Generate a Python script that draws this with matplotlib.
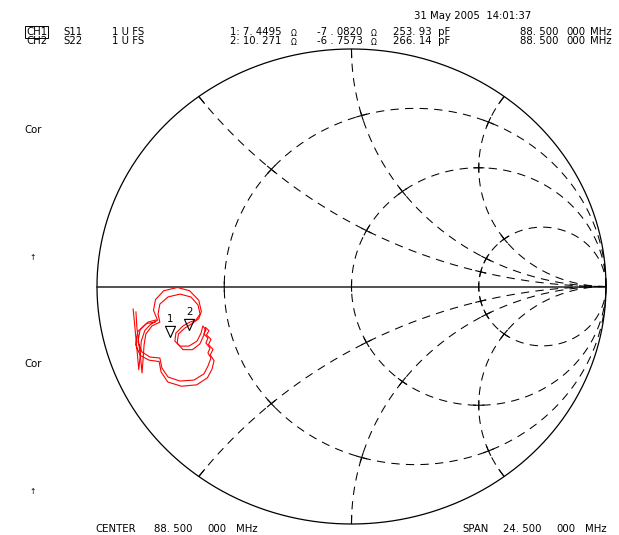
import numpy as np
import matplotlib
matplotlib.use("Agg")
import matplotlib.pyplot as plt
from matplotlib.path import Path

# ---------------- data ----------------
R_CIRCLES = [1/3, 1.0, 3.0]          # constant-resistance circles (normalised)
X_ARCS = [0.5, 1.0, 2.0, -0.5, -1.0, -2.0]  # constant-reactance arcs (normalised)
Z0 = 50.0

marker_labels = ["1", "2"]
marker_R = [7.4495, 10.271]          # ohm
marker_X = [-7.0820, -6.7573]        # ohm

# S11 trace (reflection coefficient, real / imag)
s11_re = [-0.847, -0.843, -0.835, -0.827, -0.823, -0.819, -0.815, -0.808, -0.784, -0.753,
          -0.760, -0.753, -0.721, -0.674, -0.631, -0.603, -0.595, -0.611, -0.635, -0.662,
          -0.690, -0.694, -0.674, -0.639, -0.607, -0.591, -0.584, -0.572, -0.580, -0.564,
          -0.572, -0.556, -0.564, -0.552, -0.564, -0.580, -0.619, -0.674, -0.721, -0.745,
          -0.753, -0.792, -0.823, -0.839, -0.831, -0.800, -0.768]
s11_im = [-0.107, -0.175, -0.246, -0.318, -0.364, -0.309, -0.246, -0.200, -0.166, -0.150,
          -0.116, -0.074, -0.044, -0.032, -0.044, -0.078, -0.116, -0.141, -0.150, -0.166,
          -0.196, -0.230, -0.251, -0.251, -0.230, -0.196, -0.166, -0.183, -0.200, -0.217,
          -0.238, -0.259, -0.280, -0.301, -0.335, -0.368, -0.394, -0.398, -0.381, -0.343,
          -0.301, -0.297, -0.276, -0.234, -0.183, -0.150, -0.141]

# S22 trace
s22_re = [-0.858, -0.852, -0.846, -0.840, -0.836, -0.830, -0.826, -0.812, -0.790, -0.762,
          -0.778, -0.770, -0.738, -0.684, -0.636, -0.600, -0.590, -0.600, -0.626, -0.655,
          -0.680, -0.685, -0.662, -0.625, -0.596, -0.580, -0.574, -0.560, -0.570, -0.552,
          -0.562, -0.544, -0.555, -0.540, -0.548, -0.566, -0.608, -0.668, -0.722, -0.748,
          -0.756, -0.796, -0.830, -0.848, -0.840, -0.806, -0.772]
s22_im = [-0.095, -0.160, -0.230, -0.300, -0.350, -0.290, -0.230, -0.185, -0.160, -0.142,
          -0.100, -0.055, -0.018, -0.004, -0.018, -0.058, -0.105, -0.135, -0.156, -0.175,
          -0.200, -0.238, -0.266, -0.266, -0.242, -0.205, -0.172, -0.186, -0.204, -0.222,
          -0.245, -0.265, -0.288, -0.312, -0.348, -0.384, -0.414, -0.420, -0.402, -0.360,
          -0.316, -0.310, -0.290, -0.246, -0.190, -0.156, -0.150]

header_rows = [
    ["CH1", "S11", "1 U FS", "1: 7. 4495", "-7 . 0820", "253. 93  pF", "88. 500", "000", "MHz"],
    ["CH2", "S22", "1 U FS", "2: 10. 271", "-6 . 7573", "266. 14  pF", "88. 500", "000", "MHz"],
]
date_text = "31 May 2005  14:01:37"
footer_left = ["CENTER", "88. 500", "000", "MHz"]
footer_right = ["SPAN", "24. 500", "000", "MHz"]

# ---------------- figure ----------------
W, H = 619, 535
fig = plt.figure(figsize=(W / 100, H / 100), dpi=100)
ax = fig.add_axes([0, 0, 1, 1])
ax.set_xlim(-1.3811, 1.0511)
ax.set_ylim(-1.0463, 1.2063)
ax.axis("off")

FONT = "DejaVu Sans"
FS = 7.3

def gamma(z):
    return (z - 1) / (z + 1)

dash = (0, (8, 6))
LW = 0.75

# outer circle
t = np.linspace(0, 2 * np.pi, 1000)
ax.plot(np.cos(t), np.sin(t), color="black", lw=0.9)
# real axis
ax.plot([-1, 1], [0, 0], color="#222222", lw=1.1)

# resistance circles
for r in R_CIRCLES:
    c, rho = r / (1 + r), 1 / (1 + r)
    ph = np.linspace(0, 2 * np.pi, 1500)
    ax.plot(c + rho * np.cos(ph), rho * np.sin(ph), color="black", lw=LW, ls=dash)

# reactance arcs
s = np.concatenate([[0.0], np.geomspace(1e-3, 1e4, 3000)])
for xv in X_ARCS:
    g = gamma(s + 1j * xv)
    ax.plot(g.real, g.imag, color="black", lw=LW, ls=dash)

# small solid ticks at grid intersections
def r_tick(r, g0, px=5):
    c, rho = r / (1 + r), 1 / (1 + r)
    p0 = np.arctan2(g0.imag, g0.real - c)
    d = px * 0.004 / rho
    ph = np.linspace(p0 - d, p0 + d, 20)
    ax.plot(c + rho * np.cos(ph), rho * np.sin(ph), color="black", lw=0.8)

def x_tick(xv, g0, px=5):
    cy, rho = 1 / xv, 1 / abs(xv)
    p0 = np.arctan2(g0.imag - cy, g0.real - 1)
    d = px * 0.004 / rho
    ph = np.linspace(p0 - d, p0 + d, 20)
    u, v = 1 + rho * np.cos(ph), cy + rho * np.sin(ph)
    m = u ** 2 + v ** 2 <= 1.0
    ax.plot(u[m], v[m], color="black", lw=0.8)

for r in R_CIRCLES:
    r_tick(r, gamma(r + 0j))
    for xv in X_ARCS:
        g0 = gamma(r + 1j * xv)
        r_tick(r, g0)
        x_tick(xv, g0)
for xv in X_ARCS:
    x_tick(xv, gamma(0 + 1j * xv), px=9)

# traces
ax.plot(s11_re, s11_im, color="#ff0000", lw=0.8)
ax.plot(s22_re, s22_im, color="#ff0000", lw=0.8)

# markers (inverted triangles, tip at marker point)
tri = Path([(0, 0), (-0.45, 1), (0.45, 1), (0, 0)],
           [Path.MOVETO, Path.LINETO, Path.LINETO, Path.CLOSEPOLY])
for lab, R, X in zip(marker_labels, marker_R, marker_X):
    g0 = gamma((R + 1j * X) / Z0)
    ax.plot([g0.real], [g0.imag], marker=tri, ms=16, mfc="none", mec="black", mew=0.8, ls="none")
    ax.annotate(lab, xy=(g0.real, g0.imag), xytext=(0, 10.8), textcoords="offset points",
                ha="center", va="baseline", fontsize=FS, family=FONT)

# ---------------- text ----------------
def ftext(px, py, s, **kw):
    kw.setdefault("fontsize", FS)
    kw.setdefault("family", FONT)
    return fig.text(px / W, 1 - py / H, s, ha=kw.pop("ha", "left"), va=kw.pop("va", "baseline"), **kw)

ftext(414, 19, date_text)
xs = [26, 63, 112, 230, 317, 393, 520, 566, 590]
baselines = [35.3, 44.3]
for row, yb in zip(header_rows, baselines):
    for i, (x, tok) in enumerate(zip(xs, row)):
        if i == 0 and tok == "CH1":
            ftext(x, yb, tok, bbox=dict(boxstyle="square,pad=0.08", fc="none", ec="black", lw=0.7))
        else:
            ftext(x, yb, tok)
    ftext(291, yb + 0.5, "Ω", fontsize=5.5)
    ftext(371, yb + 0.5, "Ω", fontsize=5.5)

ftext(24, 133, "Cor")
ftext(24, 366.7, "Cor")
ftext(33, 257, "↑", fontsize=5.5, ha="center", va="center")
ftext(33, 491, "↑", fontsize=5.5, ha="center", va="center")

for x, tok in zip([95, 154, 207, 236], footer_left):
    ftext(x, 532.5, tok)
for x, tok in zip([462, 503, 556, 585], footer_right):
    ftext(x, 532.5, tok)

fig.savefig("out.png", dpi=100, facecolor="white")
